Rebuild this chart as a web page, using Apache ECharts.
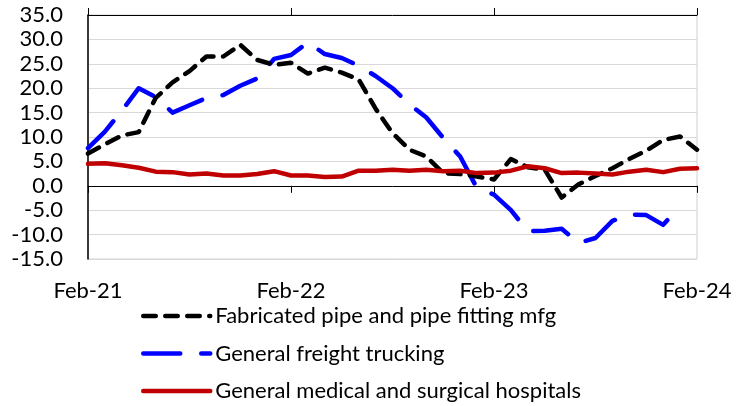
<!DOCTYPE html>
<html>
<head>
<meta charset="utf-8">
<script src="https://cdn.jsdelivr.net/npm/echarts@6/dist/echarts.min.js"></script>
<style>
  html, body { margin: 0; padding: 0; background: #fff; }
  #chart { width: 746px; height: 406px; }
</style>
</head>
<body>
<div id="chart"></div>
<script>
// monthly, Feb-21 .. Feb-24
var monthNames = ['Jan','Feb','Mar','Apr','May','Jun','Jul','Aug','Sep','Oct','Nov','Dec']
var months = []
for (var k = 0; k < 37; k++) {
  var m = (1 + k) % 12
  var y = 21 + Math.floor((1 + k) / 12)
  months.push(monthNames[m] + '-' + y)
}

var pipeFitting = [6.6, 8.5, 10.3, 11.0, 18.0, 21.2, 23.5, 26.5, 26.5, 28.9,
  25.8, 24.8, 25.2, 23.0, 24.2, 23.2, 21.8, 15.8, 10.8, 7.4,
  6.0, 2.6, 2.4, 1.9, 1.3, 5.5, 3.8, 3.3, -2.4, 0.3,
  2.0, 3.6, 5.5, 7.2, 9.4, 10.1, 7.4]

var freightTrucking = [7.7, 11.1, 15.4, 20.0, 18.2, 15.0, 16.5, 18.0, 18.6, 20.5,
  22.0, 26.0, 26.8, 29.4, 27.0, 26.2, 24.6, 22.5, 20.0, 16.7,
  14.0, 9.8, 6.0, -0.5, -1.8, -5.0, -9.3, -9.2, -8.8, -11.7,
  -10.7, -7.2, -5.9, -6.0, -8.0, -4.1, null]

var hospitals = [4.5, 4.6, 4.2, 3.7, 2.9, 2.8, 2.3, 2.5, 2.1, 2.1,
  2.4, 3.0, 2.1, 2.1, 1.8, 1.9, 3.1, 3.1, 3.3, 3.1,
  3.3, 3.0, 3.1, 2.6, 2.7, 3.1, 4.0, 3.6, 2.6, 2.7,
  2.5, 2.3, 2.9, 3.3, 2.8, 3.5, 3.6]

var font = 'Lato'

let chart = echarts.init(document.getElementById('chart'))

function zeroAxis (pos) {
  return {
    type: 'category', data: months, boundaryGap: false, position: pos,
    axisLine: { onZero: true, lineStyle: { color: '#000', width: 1 } },
    axisTick: { show: true, interval: 11, length: 7, lineStyle: { color: '#000', width: 1 } },
    axisLabel: { show: false },
    splitLine: { show: false }
  }
}

let option = {
  animation: false,
  grid: { left: 88, right: 49, top: 15, bottom: 147, show: true, borderColor: '#d0d0d0', borderWidth: 1 },
  xAxis: [
    {
      type: 'category', data: months, boundaryGap: false, position: 'bottom',
      axisLine: { show: false, onZero: false },
      axisTick: { show: false },
      axisLabel: { interval: 11, margin: 21, fontFamily: font, fontSize: 22, color: '#000', showMaxLabel: true },
      splitLine: { show: false }
    },
    zeroAxis('bottom'),
    zeroAxis('top')
  ],
  yAxis: {
    type: 'value', min: -15, max: 35, interval: 5,
    axisLine: { show: true, lineStyle: { color: '#000', width: 1.5 } },
    axisTick: { show: false },
    axisLabel: { margin: 25, fontFamily: font, fontSize: 22, color: '#000',
      formatter: function (v) { return v.toFixed(1) } },
    splitLine: { lineStyle: { color: '#d9d9d9', width: 1 } }
  },
  legend: {
    orient: 'vertical', left: 136, top: 298, height: 110,
    itemWidth: 67, itemHeight: 14, itemGap: 11.5,
    itemStyle: { opacity: 0 },
    lineStyle: { width: 4.5, cap: 'round' },
    textStyle: { fontFamily: font, fontSize: 22, color: '#000', lineHeight: 26 },
    data: ['Fabricated pipe and pipe fitting mfg', 'General freight trucking', 'General medical and surgical hospitals']
  },
  series: [
    {
      name: 'Fabricated pipe and pipe fitting mfg', type: 'line', data: pipeFitting,
      symbol: 'none', z: 3,
      lineStyle: { color: '#000', width: 4.5, type: [12.5, 9.5], cap: 'round', join: 'round' },
      itemStyle: { color: '#000' }
    },
    {
      name: 'General freight trucking', type: 'line', data: freightTrucking,
      symbol: 'none', z: 2,
      lineStyle: { color: '#0000ff', width: 4.5, type: [37, 21], cap: 'round', join: 'round' },
      itemStyle: { color: '#0000ff' }
    },
    {
      name: 'General medical and surgical hospitals', type: 'line', data: hospitals,
      symbol: 'none', z: 4,
      lineStyle: { color: '#c00000', width: 4.5, cap: 'round', join: 'round' },
      itemStyle: { color: '#c00000' }
    }
  ]
}

chart.setOption(option)
</script>
</body>
</html>
